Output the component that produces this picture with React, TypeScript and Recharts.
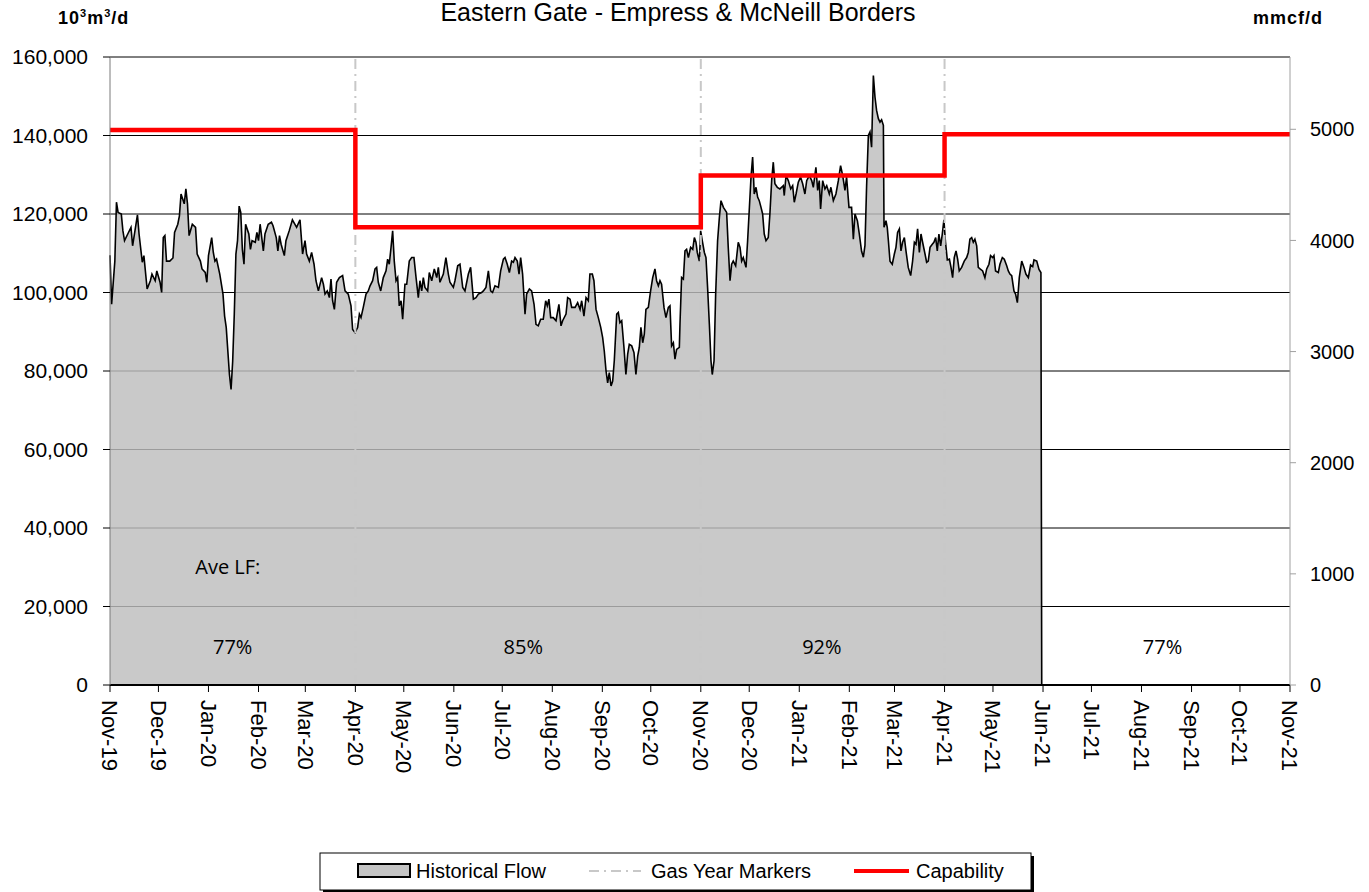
import React from "react";
import {
  ComposedChart,
  Area,
  Line,
  XAxis,
  YAxis,
  CartesianGrid,
  ReferenceLine,
  ReferenceDot,
} from "recharts";

// x positions are days counted from 1 Nov 2019
const monthTicks = [
  0, 30, 61, 92, 121, 152, 182, 213, 243, 274, 305, 335, 366, 396, 427, 458, 486, 517, 547, 578, 608,
  639, 670, 700, 731,
];
const monthLabels = [
  "Nov-19", "Dec-19", "Jan-20", "Feb-20", "Mar-20", "Apr-20", "May-20", "Jun-20", "Jul-20", "Aug-20",
  "Sep-20", "Oct-20", "Nov-20", "Dec-20", "Jan-21", "Feb-21", "Mar-21", "Apr-21", "May-21", "Jun-21",
  "Jul-21", "Aug-21", "Sep-21", "Oct-21", "Nov-21",
];

const leftTicks = [0, 20000, 40000, 60000, 80000, 100000, 120000, 140000, 160000];
const rightTicks = [0, 1000, 2000, 3000, 4000, 5000];
const M3_PER_MMCF = 28.3168; // 10³m³ per mmcf

// historical flow, 10³m³/d
const flowDays = [
  0, 1, 3, 4, 5, 7, 8, 9, 11, 13, 14, 17, 18, 20, 21, 23, 25, 26, 28, 29, 31, 32, 33, 34, 35, 37, 39, 40,
  42, 43, 44, 46, 47, 48, 49, 51, 53, 54, 56, 57, 59, 60, 61, 63, 64, 65, 66, 68, 70, 71, 72, 74, 75, 76,
  77, 78, 79, 80, 81, 82, 83, 84, 86, 87, 88, 90, 91, 92, 93, 95, 96, 98, 100, 101, 103, 104, 105, 106,
  108, 109, 111, 113, 115.6, 117.7, 119.3, 120.8, 121.8, 123.5, 124.9, 126.4, 127.6, 129.1, 131.1, 132.2,
  133.2, 134.6, 135.9, 136.9, 137.9, 139, 140.4, 142.1, 144.1, 145.6, 147.6, 149.3, 150.3, 151.8, 153.4,
  154.5, 155.5, 156.9, 158.6, 160, 161.1, 162.7, 164.2, 165.2, 166.2, 167.7, 169.3, 171, 172, 173, 174.1,
  175.1, 176.1, 177.2, 178.2, 179.2, 180.3, 181.3, 182.7, 183.8, 185.4, 186.9, 188.3, 189.6, 191, 192,
  193.1, 194.1, 195.1, 196.8, 197.8, 199.3, 200.9, 202.4, 203.4, 204.4, 206.5, 208.1, 209.6, 210.6, 212.7,
  213.7, 215.4, 216.8, 218.5, 219.9, 222, 223.4, 225.1, 226.7, 228.2, 230.2, 231.3, 232.9, 234.4, 235.8,
  237, 238.5, 240.6, 242, 243.7, 244.7, 246.1, 247.4, 248.8, 249.9, 250.9, 252.3, 253.4, 254.4, 255.6,
  257.1, 258.1, 259.8, 261.2, 262.7, 263.9, 265.3, 266.8, 268.4, 269.9, 270.9, 271.9, 273, 274.6, 276.3,
  278.1, 279.4, 280.4, 282.5, 283.5, 285, 286, 288.1, 289.7, 291.2, 292.2, 293.6, 294.9, 296.3, 297.3,
  298.8, 299.8, 301.1, 302.5, 304, 305.2, 306.2, 307.3, 308.3, 309.3, 310.4, 311.4, 312.4, 313.9, 314.9,
  315.9, 317, 318.4, 319.6, 320.7, 321.7, 323.2, 324.6, 325.8, 326.9, 327.9, 328.9, 330, 331, 332, 333.5,
  334.9, 336.2, 337.6, 338.6, 339.7, 340.7, 341.7, 343.2, 344.4, 345.9, 346.9, 347.9, 349, 350, 351,
  352.7, 353.1, 354.1, 355.2, 356.2, 357.2, 358.3, 359.7, 361, 362, 363, 363.8, 365.1, 365.9, 366.9,
  368.2, 369.2, 370.2, 371.3, 372.3, 373.1, 374.2, 375.2, 376.4, 377.5, 378.5, 380, 382, 383, 384.1,
  385.1, 386.1, 387.6, 389.2, 390.3, 391.3, 392.3, 394, 395, 396, 397.1, 398.1, 399.1, 400.2, 401.2,
  402.2, 403.3, 404.3, 405.3, 406.4, 407.8, 408.8, 409.9, 410.9, 411.9, 413.4, 415, 417.1, 417.7, 418.8,
  420.2, 421.7, 422.9, 423.9, 425, 426.4, 427.8, 429.1, 430.5, 431.6, 433.2, 434.7, 435.7, 437.3, 438.4,
  439.4, 440.2, 441.5, 442.9, 444, 445.6, 446.6, 448.1, 449.7, 451.2, 452.6, 453.9, 455.3, 456.3, 457.8,
  459.4, 460.5, 461.5, 463, 464.2, 465.6, 466.7, 467.7, 468.7, 469.8, 470.8, 471.8, 472.9, 473.9, 474.9,
  476, 477, 478, 479.1, 479.5, 480.7, 481.5, 482.2, 483.2, 484.6, 485.9, 486.9, 487.9, 489, 490, 491,
  492.1, 493.1, 494.5, 496, 497.2, 498.3, 499.3, 500.3, 501.4, 502.4, 503.4, 504.9, 505.9, 506.9, 508,
  509.4, 510.4, 511.5, 512.5, 513.5, 514.6, 515.6, 516.6, 517.5, 518.7, 520, 521, 522, 523, 524.1, 525.1,
  526.1, 527.6, 529.2, 530.7, 531.7, 532.7, 533.8, 534.8, 535.8, 536.9, 537.9, 539, 540.6, 542, 543.1,
  544.5, 545.5, 546.8, 547.6, 548.6, 550.3, 551.3, 552.8, 554, 555.5, 556.5, 557.5, 558.6, 560, 561,
  562.1, 563.3, 564.8, 566.2, 567.4, 568.9, 570.3, 571.6, 572.4, 574.1, 575.5, 576.7, 577.2, 731,
];
const flowValues = [
  109500, 97000, 108000, 123000, 120400, 120000, 115700, 113200, 114900, 116600, 111900, 119800, 114900,
  107700, 109400, 100900, 103000, 104700, 103000, 105500, 102600, 100000, 114000, 114500, 108000, 108000,
  108800, 115300, 117400, 119500, 125100, 122600, 126400, 122600, 114500, 117400, 116600, 109800, 108000,
  106000, 105100, 102600, 109400, 114000, 110200, 108000, 108500, 104700, 99600, 94000, 91100, 79100,
  75300, 82500, 94500, 109800, 113200, 122000, 120400, 111000, 107200, 117400, 114900, 111000, 113200,
  112800, 115300, 113200, 117400, 110600, 114900, 117400, 117900, 117000, 114000, 110600, 114500, 112300,
  109400, 113200, 115700, 118500, 116600, 118500, 109800, 113200, 109800, 108000, 110200, 107200, 103000,
  100400, 103800, 102100, 99600, 100400, 98700, 103400, 97900, 95700, 102600, 103800, 104300, 100400,
  99600, 96600, 90600, 89800, 91100, 94500, 93600, 96200, 99600, 100400, 101700, 103000, 106000, 106400,
  102600, 100400, 103800, 105500, 108500, 107200, 111500, 115700, 108000, 103000, 103800, 96600, 97900,
  93200, 102100, 102100, 108000, 108900, 108900, 103800, 98700, 103000, 100400, 103800, 101300, 100400,
  105100, 103000, 106000, 103800, 106400, 102600, 104700, 108900, 104700, 102600, 101300, 103000, 106800,
  107200, 101300, 100400, 104700, 106400, 98300, 98700, 99600, 100000, 100400, 101300, 105500, 100400,
  100000, 101700, 101300, 105500, 108500, 108900, 107200, 105100, 108000, 107700, 108900, 108000, 104700,
  108900, 104700, 94500, 99600, 100900, 100400, 97000, 91900, 91500, 93200, 93200, 97900, 96600, 98300,
  93600, 93600, 92800, 97000, 91500, 92800, 94500, 98700, 98300, 96200, 96200, 97400, 95700, 97900, 94000,
  98700, 97900, 104700, 104700, 103000, 95700, 93600, 91100, 88500, 85100, 80000, 77000, 79600, 76200,
  77400, 82600, 94500, 94900, 92300, 92800, 86000, 79100, 84300, 86800, 86400, 84700, 79100, 83800, 86000,
  91100, 87200, 89400, 95700, 96200, 100400, 103800, 106000, 103000, 101700, 103000, 102100, 96200, 93600,
  96200, 96600, 86400, 87200, 83000, 85500, 86000, 92000, 103800, 103400, 110600, 111000, 108900, 111500,
  111000, 114000, 112800, 110200, 108000, 115700, 113200, 110200, 108900, 101300, 91900, 82600, 79100,
  82600, 99600, 113200, 119100, 123400, 121700, 120400, 111500, 103000, 107200, 108000, 106800, 112800,
  111500, 108000, 108900, 106400, 113200, 120900, 129400, 134500, 125100, 126800, 124300, 123400, 121700,
  120000, 114900, 113200, 114000, 120000, 128500, 133200, 127700, 126800, 126400, 127200, 124700, 129800,
  128500, 126400, 127200, 123000, 125100, 128100, 129400, 127700, 125100, 128500, 129800, 128500, 126800,
  131900, 126000, 128500, 121300, 128500, 126400, 127200, 125100, 126800, 123400, 125100, 128500, 132300,
  129800, 126000, 129400, 121700, 121700, 113600, 120000, 118300, 114900, 110500, 109000, 112000, 127000,
  140000, 140900, 137000, 155300, 149800, 146400, 144300, 143400, 144000, 142600, 116600, 118300, 116600,
  113200, 108000, 107200, 109800, 111500, 115300, 116200, 110600, 112800, 114000, 110600, 106400, 104300,
  108000, 112800, 112300, 116200, 110200, 114900, 112800, 109800, 107700, 108000, 111500, 112300, 112800,
  114000, 110600, 114900, 111900, 114900, 118500, 113200, 108300, 108500, 106400, 103800, 108900, 110600,
  108500, 105500, 106400, 108000, 108900, 110200, 113600, 114000, 112800, 113600, 111900, 106400, 106000,
  105500, 103800, 106000, 107200, 109400, 108900, 109400, 105500, 105100, 107200, 108900, 108500, 106800,
  105500, 104700, 104300, 100400, 99600, 97400, 103800, 108000, 106400, 104700, 103800, 107000, 106600,
  108300, 108000, 105900, 105100, 0, 0,
];

// capability steps at the gas year markers, 10³m³/d
const capabilityDays = [0, 152, 152, 366, 366, 517, 517, 731];
const capabilityValues = [141400, 141400, 116600, 116600, 129800, 129800, 140300, 140300];

const gasYearMarkers = [152, 366, 517];

const loadFactorLabels = ["77%", "85%", "92%", "77%"];
const loadFactorDays = [76, 256, 441, 652];

const flowData = flowDays.map((day, i) => ({ day, flow: flowValues[i] }));
const capData = capabilityDays.map((day, i) => ({
  day,
  cap: capabilityValues[i],
  capMmcf: capabilityValues[i] / M3_PER_MMCF,
}));
const chartData = [...flowData, ...capData].sort((a, b) => a.day - b.day);

const FONT = '"Liberation Sans", Arial, sans-serif';
const LF_FONT = '"Open Sans", "Noto Sans", sans-serif';

function MonthTick({ x, y, payload }: any) {
  const i = monthTicks.indexOf(payload.value);
  return (
    <text
      x={0}
      y={0}
      dy="0.35em"
      transform={`translate(${x},${y}) rotate(90)`}
      textAnchor="start"
      fontSize={22}
      fontFamily={FONT}
      fill="#000"
    >
      {monthLabels[i]}
    </text>
  );
}

function ChartLegend() {
  return (
    <svg
      width={730}
      height={50}
      style={{ position: "absolute", left: 316, top: 848, fontFamily: FONT }}
    >
      <rect x={7} y={8} width={711} height={37} fill="#000" />
      <rect x={4} y={5} width={711} height={37} fill="#fff" stroke="#000" strokeWidth={1} />
      <rect x={42} y={16} width={52} height={13} fill="#c4c4c4" stroke="#000" strokeWidth={2} />
      <text x={100} y={30} fontSize={20} fill="#000">Historical Flow</text>
      <line x1={273} x2={325} y1={23} y2={23} stroke="#c8c8c8" strokeWidth={2} strokeDasharray="10 5 2 5" />
      <text x={335} y={30} fontSize={20} fill="#000">Gas Year Markers</text>
      <line x1={538} x2={593} y1={23} y2={23} stroke="#ff0000" strokeWidth={4} />
      <text x={600} y={30} fontSize={20} fill="#000">Capability</text>
    </svg>
  );
}

const supStyle: React.CSSProperties = { fontSize: 11, position: "relative", top: -7, lineHeight: 0 };

export default function App() {
  return (
    <div
      style={{
        position: "absolute",
        left: 0,
        top: 0,
        width: 1369,
        height: 892,
        background: "#fff",
        fontFamily: FONT,
      }}
    >
      <div
        style={{
          position: "absolute",
          left: 678,
          top: 0,
          transform: "translateX(-50%)",
          fontSize: 25,
          lineHeight: "25px",
          whiteSpace: "nowrap",
        }}
      >
        Eastern Gate - Empress &amp; McNeill Borders
      </div>
      <div
        style={{
          position: "absolute",
          left: 58,
          top: 9,
          fontSize: 18,
          lineHeight: "18px",
          fontWeight: "bold",
          letterSpacing: 1,
          whiteSpace: "nowrap",
        }}
      >
        10<span style={supStyle}>3</span>m<span style={supStyle}>3</span>/d
      </div>
      <div
        style={{
          position: "absolute",
          left: 1253,
          top: 9,
          fontSize: 18,
          lineHeight: "18px",
          fontWeight: "bold",
          letterSpacing: 1,
        }}
      >
        mmcf/d
      </div>

      <ComposedChart
        width={1369}
        height={892}
        data={chartData}
        margin={{ top: 57, right: 9, bottom: 107, left: 10 }}
      >
        <CartesianGrid yAxisId="left" vertical={false} stroke="#000" strokeWidth={1} />
        <XAxis
          dataKey="day"
          type="number"
          domain={[0, 731]}
          ticks={monthTicks}
          interval={0}
          tick={<MonthTick />}
          tickSize={7}
          tickMargin={8}
          height={100}
          axisLine={{ stroke: "#000", strokeWidth: 2 }}
          tickLine={{ stroke: "#000" }}
        />
        <YAxis
          yAxisId="left"
          domain={[0, 160000]}
          ticks={leftTicks}
          interval={0}
          width={100}
          tickSize={7}
          tickMargin={15}
          tickFormatter={(v: number) => v.toLocaleString("en-US")}
          tick={{ fontSize: 21, fill: "#000", fontFamily: FONT }}
          axisLine={{ stroke: "#7a7a7a" }}
          tickLine={{ stroke: "#000" }}
        />
        <YAxis
          yAxisId="right"
          orientation="right"
          domain={[0, 160000 / M3_PER_MMCF]}
          allowDataOverflow
          ticks={rightTicks}
          interval={0}
          width={70}
          tickSize={6}
          tickMargin={14}
          tick={{ fontSize: 20, fill: "#000", fontFamily: FONT }}
          axisLine={{ stroke: "#a0a0a0" }}
          tickLine={{ stroke: "#a0a0a0" }}
        />
        <Area
          yAxisId="left"
          type="linear"
          dataKey="flow"
          connectNulls
          stroke="#000"
          strokeWidth={1.6}
          fill="#bdbdbd"
          fillOpacity={0.82}
          dot={false}
          activeDot={false}
          isAnimationActive={false}
        />
        {gasYearMarkers.map((d) => (
          <ReferenceLine
            key={d}
            yAxisId="left"
            x={d}
            stroke="#c8c8c8"
            strokeWidth={2}
            strokeDasharray="10 5 2 5"
          />
        ))}
        {/* same capability in mmcf/d, only there to scale the right axis */}
        <Line
          yAxisId="right"
          type="linear"
          dataKey="capMmcf"
          connectNulls
          stroke="none"
          strokeOpacity={0}
          dot={false}
          activeDot={false}
          isAnimationActive={false}
        />
        <Line
          yAxisId="left"
          type="linear"
          dataKey="cap"
          connectNulls
          stroke="#ff0000"
          strokeWidth={4.5}
          dot={false}
          activeDot={false}
          isAnimationActive={false}
        />
        <ReferenceDot
          yAxisId="left"
          x={73}
          y={30000}
          r={0}
          fill="none"
          stroke="none"
          label={{ value: "Ave LF:", position: "center", fontSize: 20, fill: "#000", fontFamily: LF_FONT }}
        />
        {loadFactorLabels.map((lf, i) => (
          <ReferenceDot
            key={i}
            yAxisId="left"
            x={loadFactorDays[i]}
            y={9800}
            r={0}
            fill="none"
            stroke="none"
            label={{ value: lf, position: "center", fontSize: 20, fill: "#000", fontFamily: LF_FONT }}
          />
        ))}
      </ComposedChart>
      <ChartLegend />
    </div>
  );
}
